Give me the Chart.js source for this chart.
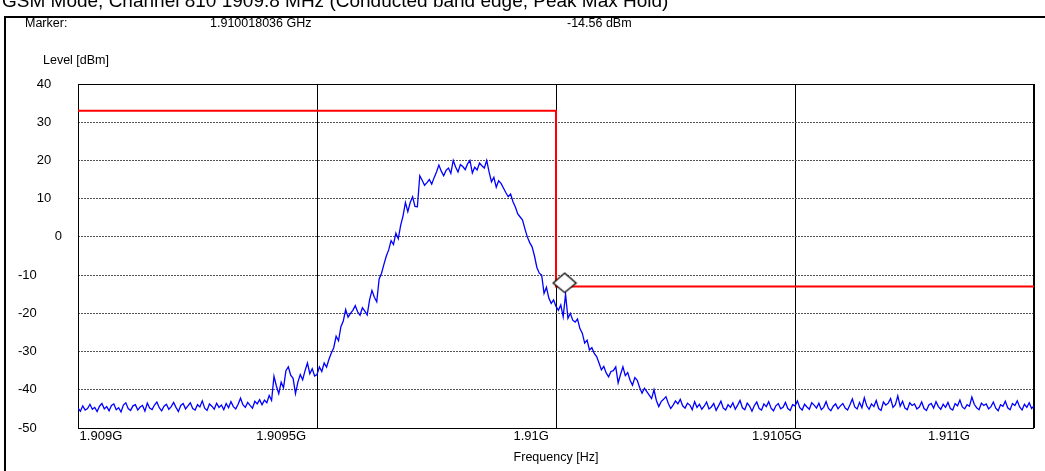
<!DOCTYPE html>
<html lang="en">
<head>
  <meta charset="UTF-8" />
  <title>GSM band edge</title>
  <script src="https://cdn.jsdelivr.net/npm/chart.js"></script>
  <style>
    body {
      margin: 0;
      background: #fff;
      font-family: 'Liberation Sans', Arial, sans-serif;
    }
    canvas { display: block; }
  </style>
</head>
<body>
  <canvas id="chart" width="1045" height="471"></canvas>

  <script>
    // sweep (MHz), 401 points
    const sweepStart = 1909;
    const sweepStop = 1911;

    // trace level [dBm]
    const levels = [
      -44.8,-45.6,-44.2,-45.3,-44.9,-43.8,-45.1,-44.6,-45.7,-44.3,-43.6,-45.0,-44.4,-45.5,-44.1,-43.7,-45.2,-44.7,-45.8,-44.0,
      -43.4,-44.9,-45.4,-44.2,-43.9,-45.3,-44.5,-44.1,-45.6,-43.5,-44.8,-45.2,-44.0,-43.2,-44.7,-45.5,-44.3,-43.8,-45.1,-44.4,
      -43.3,-44.6,-45.7,-44.1,-43.6,-45.0,-44.2,-43.4,-44.9,-45.3,-43.9,-44.5,-42.9,-44.8,-45.4,-43.7,-44.3,-45.1,-43.5,-44.6,
      -44.0,-45.2,-43.6,-44.7,-43.1,-44.4,-45.0,-43.8,-42.2,-43.9,-44.6,-43.3,-44.1,-44.8,-43.0,-43.7,-42.6,-43.9,-42.7,-43.4,
      -41.5,-42.8,-36.5,-39.0,-41.0,-38.0,-39.5,-35.0,-34.0,-36.2,-37.0,-41.0,-38.0,-36.0,-37.4,-35.0,-33.0,-35.8,-34.5,-36.4,
      -36.0,-34.0,-35.2,-33.0,-34.1,-32.0,-30.4,-29.0,-26.0,-27.2,-23.5,-22.0,-19.0,-21.0,-20.0,-19.2,-18.0,-19.6,-20.5,-18.5,
      -19.4,-20.4,-16.5,-14.0,-15.8,-17.0,-11.0,-9.5,-7.2,-5.0,-3.4,-1.0,-2.0,1.0,-0.5,3.0,5.5,9.0,6.6,9.0,
      10.5,8.0,7.9,16.0,14.8,13.5,14.2,15.0,13.8,15.5,17.0,18.8,17.2,16.0,17.4,18.0,16.6,20.0,18.3,17.0,
      18.9,18.4,17.6,19.1,20.0,16.7,18.2,17.5,19.3,18.6,18.0,20.0,17.0,14.4,15.6,13.0,14.7,14.0,12.8,11.6,
      10.5,11.2,9.2,7.8,6.0,5.2,4.4,2.1,0.0,-1.5,-2.6,-5.0,-8.0,-9.5,-10.0,-14.8,-13.2,-16.0,-17.4,-16.5,
      -18.2,-19.2,-17.8,-20.9,-15.0,-21.3,-20.0,-21.8,-22.3,-21.5,-24.0,-25.2,-27.8,-27.0,-29.6,-29.0,-30.5,-31.3,-33.0,-34.8,
      -33.9,-35.6,-36.6,-35.2,-35.0,-34.0,-38.2,-36.0,-34.0,-36.3,-35.5,-37.5,-38.8,-36.8,-37.5,-39.4,-40.9,-39.6,-40.5,-41.4,
      -42.3,-40.0,-42.8,-44.4,-43.1,-42.5,-41.8,-43.6,-44.9,-44.0,-42.9,-43.7,-42.5,-44.2,-44.8,-43.5,-44.0,-45.2,-43.1,-44.6,
      -43.8,-45.1,-44.3,-43.2,-45.0,-44.5,-43.6,-45.4,-44.2,-43.0,-44.8,-45.3,-43.9,-44.6,-43.4,-45.1,-44.0,-42.8,-44.7,-45.2,
      -43.5,-44.3,-45.6,-44.1,-43.2,-44.9,-45.3,-43.7,-44.4,-43.1,-44.8,-45.5,-44.2,-43.6,-45.0,-44.6,-43.3,-44.9,-45.4,-43.9,
      -44.2,-42.9,-44.7,-45.3,-43.8,-44.5,-45.1,-43.4,-44.0,-44.8,-43.5,-45.2,-44.6,-43.1,-44.9,-45.5,-44.3,-43.7,-45.0,-44.2,
      -43.6,-44.8,-45.3,-43.9,-42.4,-44.5,-45.0,-43.3,-44.7,-42.1,-44.2,-45.1,-43.7,-44.4,-42.8,-44.9,-45.4,-43.2,-44.0,-43.5,
      -42.3,-44.6,-43.9,-41.6,-44.3,-43.0,-44.8,-45.2,-43.4,-44.1,-43.7,-45.0,-44.5,-43.2,-44.9,-45.4,-44.0,-43.6,-44.8,-43.1,
      -44.4,-45.1,-43.8,-44.6,-43.3,-44.9,-45.3,-43.6,-44.2,-42.7,-44.5,-45.0,-43.9,-44.3,-41.9,-43.8,-44.7,-45.2,-43.5,-44.1,
      -43.7,-45.0,-44.4,-43.2,-44.8,-45.5,-43.9,-44.3,-43.0,-44.7,-45.2,-43.6,-44.1,-42.9,-44.5,-45.3,-43.8,-44.6,-43.4,-44.9,
      -44.2
    ];

    // limit line
    const maskFreq = [1909, 1910, 1910, 1911];
    const maskLevel = [33, 33, -13, -13];

    // marker
    const markerFreq = 1910.018036;
    const markerLevel = -14.56;

    // axes
    const xGridFreq = [1909, 1909.5, 1910, 1910.5, 1911];
    const xLabelFreq = [1909.048, 1909.425, 1909.948, 1910.462, 1910.822];
    const xLabelText = ['1.909G', '1.9095G', '1.91G', '1.9105G', '1.911G'];
    const yMin = -50, yMax = 40, yStep = 10;

    const FONT = "'Liberation Sans', Arial, sans-serif";

    const step = (sweepStop - sweepStart) / (levels.length - 1);
    const trace = levels.map((v, i) => ({ x: sweepStart + i * step, y: v }));
    const mask = maskFreq.map((f, i) => ({ x: f, y: maskLevel[i] }));

    // diamond with its bottom tip at the image centre
    const diamond = document.createElement('canvas');
    diamond.width = 26;
    diamond.height = 42;
    const dctx = diamond.getContext('2d');
    dctx.beginPath();
    dctx.moveTo(13, 1.5);
    dctx.lineTo(24.5, 11.5);
    dctx.lineTo(13, 21);
    dctx.lineTo(1.5, 11.5);
    dctx.closePath();
    dctx.fillStyle = '#fff';
    dctx.fill();
    dctx.strokeStyle = '#000';
    dctx.lineWidth = 1.3;
    dctx.stroke();

    const decor = {
      id: 'decor',
      beforeDraw(chart) {
        const c = chart.ctx;
        c.save();
        c.fillStyle = '#000';
        c.textBaseline = 'alphabetic';
        c.font = '19px ' + FONT;
        c.fillText('GSM Mode, Channel 810 1909.8 MHz (Conducted band edge, Peak Max Hold)', 2, 7);
        c.strokeStyle = '#000';
        c.lineWidth = 2;
        c.beginPath();
        c.moveTo(5, 480);
        c.lineTo(5, 17);
        c.lineTo(1050, 17);
        c.stroke();
        c.font = '12.5px ' + FONT;
        c.textBaseline = 'middle';
        c.fillText('Marker:', 25, 24);
        c.fillText((markerFreq / 1000).toFixed(9) + ' GHz', 210, 24);
        c.fillText(markerLevel.toFixed(2) + ' dBm', 567, 24);
        c.fillText('Level [dBm]', 43, 61);
        c.restore();
      },
      beforeDatasetsDraw(chart) {
        const a = chart.chartArea;
        const c = chart.ctx;
        c.save();
        c.strokeStyle = '#000';
        c.lineWidth = 1;
        c.strokeRect(Math.round(a.left) + 0.5, Math.round(a.top) + 0.5,
          Math.round(a.right - a.left) - 1, Math.round(a.bottom - a.top));
        c.restore();
      }
    };

    new Chart(document.getElementById('chart'), {
      type: 'line',
      data: {
        datasets: [
          {
            data: [{ x: markerFreq, y: markerLevel }],
            showLine: false,
            pointStyle: diamond,
            pointRadius: 10,
            clip: false
          },
          {
            data: mask,
            borderColor: '#ff0000',
            borderWidth: 2,
            pointRadius: 0,
            tension: 0
          },
          {
            data: trace,
            borderColor: '#0000ff',
            borderWidth: 1.3,
            pointRadius: 0,
            tension: 0
          }
        ]
      },
      options: {
        responsive: false,
        animation: false,
        events: [],
        layout: { padding: { left: 0, top: 84, right: 11, bottom: 0 } },
        plugins: { legend: { display: false }, tooltip: { enabled: false } },
        scales: {
          x: {
            type: 'linear',
            min: sweepStart,
            max: sweepStop,
            afterBuildTicks: s => {
              s.ticks = xGridFreq.concat(xLabelFreq).sort((a, b) => a - b).map(v => ({ value: v }));
            },
            afterFit: s => { s.height = 43; },
            border: { display: false },
            grid: {
              drawTicks: false,
              color: ctx => (ctx.tick && xGridFreq.includes(ctx.tick.value)) ? '#000' : 'rgba(0,0,0,0)',
              lineWidth: 1
            },
            ticks: {
              autoSkip: false,
              maxRotation: 0,
              padding: 1,
              color: '#000',
              font: { family: FONT, size: 13 },
              callback: v => {
                const k = xLabelFreq.indexOf(v);
                return k >= 0 ? xLabelText[k] : '';
              }
            },
            title: {
              display: true,
              text: 'Frequency [Hz]',
              color: '#000',
              font: { family: FONT, size: 12.5 },
              padding: { top: 0, bottom: 6 }
            }
          },
          y: {
            min: yMin,
            max: yMax,
            afterFit: s => { s.width = 78; },
            border: { display: false, dash: [2, 1] },
            grid: { drawTicks: false, color: '#555', lineWidth: 1 },
            ticks: {
              stepSize: yStep,
              padding: 16,
              color: '#000',
              font: { family: FONT, size: 13 },
              callback: v => String(v) + ' '.repeat(v === 0 ? 0 : (v > 0 ? 3 : 7))
            }
          }
        }
      },
      plugins: [decor]
    });
  </script>
</body>
</html>
